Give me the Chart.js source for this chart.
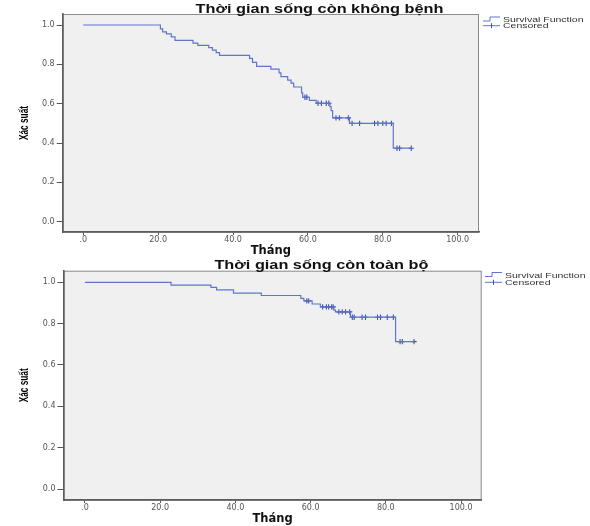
<!DOCTYPE html>
<html>
<head>
<meta charset="utf-8">
<script src="https://cdn.jsdelivr.net/npm/chart.js@4.4.1/dist/chart.umd.min.js"></script>
<style>
  body { margin: 0; background: #fff; }
  #wrap { position: relative; width: 590px; height: 526px; }
  canvas { position: absolute; left: 0; }
  #c1 { top: 0; }
  #c2 { top: 258px; }
</style>
</head>
<body>
<div id="wrap">
  <canvas id="c1" width="590" height="258"></canvas>
  <canvas id="c2" width="590" height="268"></canvas>
</div>
<script>
// ticks used on both plots
const xTicks = [0, 20, 40, 60, 80, 100];
const yTicks = [0, 0.2, 0.4, 0.6, 0.8, 1.0];

// top: disease free survival
const dfsTime = [0, 20.6, 21.2, 22.2, 23.5, 24.5, 29.3, 30.6, 33.5, 34.5, 35.5, 36.4,
  44.4, 45.2, 46.3, 50.1, 52.3, 52.8, 54.6, 55.5, 56.2, 58.3, 58.6, 60.4,
  62.2, 65.9, 66.2, 66.6, 71.1, 82.8, 87.6];
const dfsSurv = [1, 0.98, 0.965, 0.955, 0.94, 0.922, 0.908, 0.897, 0.885, 0.872, 0.86, 0.846,
  0.83, 0.81, 0.79, 0.776, 0.757, 0.738, 0.72, 0.705, 0.685, 0.655, 0.633, 0.617,
  0.602, 0.585, 0.565, 0.528, 0.5, 0.374, 0.374];
const dfsCensTime = [59.2, 59.7, 62.7, 63.6, 64.9, 65.6, 67.5, 68.4, 70.8, 71.8, 73.8,
  77.8, 78.7, 80.0, 80.9, 82.3, 83.8, 84.5, 87.6];
const dfsCensSurv = [0.633, 0.633, 0.602, 0.602, 0.602, 0.602, 0.528, 0.528, 0.528, 0.5, 0.5,
  0.5, 0.5, 0.5, 0.5, 0.5, 0.374, 0.374, 0.374];

// bottom: overall survival
const osTime = [0, 22.9, 33.5, 35.0, 39.5, 46.9, 57.4, 58.2, 60.4, 62.6, 66.2, 66.6, 70.6, 82.6, 87.5];
const osSurv = [1, 0.986, 0.975, 0.963, 0.948, 0.936, 0.922, 0.91, 0.895, 0.881, 0.865, 0.857, 0.831, 0.713, 0.713];
const osCensTime = [59.0, 59.5, 63.2, 64.2, 64.8, 65.6, 66.0, 67.5, 68.4, 69.3, 70.4,
  71.1, 71.6, 73.7, 74.6, 77.8, 78.6, 80.4, 82.0, 83.8, 84.4, 87.5];
const osCensSurv = [0.91, 0.91, 0.881, 0.881, 0.881, 0.881, 0.881, 0.857, 0.857, 0.857, 0.857,
  0.831, 0.831, 0.831, 0.831, 0.831, 0.831, 0.831, 0.831, 0.713, 0.713, 0.713];

const lineBlue = '#5f76c8';
const markBlue = '#3a53b0';

// draws text squeezed/stretched along its own direction (the source picture is stretched)
function wideText(ctx, text, x, y, sx, font, color, rot) {
  ctx.save();
  ctx.font = font;
  ctx.fillStyle = color;
  ctx.textBaseline = 'alphabetic';
  ctx.translate(x, y);
  if (rot) ctx.rotate(rot);
  ctx.scale(sx, 1);
  ctx.fillText(text, 0, 0);
  ctx.restore();
}

function textW(ctx, text, font) {
  ctx.save();
  ctx.font = font;
  const w = ctx.measureText(text).width;
  ctx.restore();
  return w;
}

// grey plot box, centred title, y label and the SPSS style legend
const kmDecor = {
  id: 'kmDecor',
  beforeDraw(chart, args, o) {
    const {ctx, chartArea: a} = chart;
    ctx.save();
    ctx.fillStyle = '#f0f0f0';
    ctx.fillRect(a.left, a.top, a.right - a.left, a.bottom - a.top);
    ctx.strokeStyle = '#8c8c8c';
    ctx.lineWidth = 1;
    ctx.strokeRect(a.left + 0.5, a.top + 0.5, a.right - a.left - 1, a.bottom - a.top);
    ctx.restore();
  },
  afterDraw(chart, args, o) {
    const {ctx, chartArea: a} = chart;
    // title
    const tf = 'bold 12px "Liberation Sans"';
    const w = textW(ctx, o.title, tf);
    wideText(ctx, o.title, o.titleX - o.titleW / 2, o.titleY, o.titleW / w, tf, '#111');

    // y axis label, narrow and rotated
    const yf = 'bold 13px "Liberation Sans"';
    const yl = 'Xác suất';
    const yw = textW(ctx, yl, yf);
    const cy = (a.top + a.bottom) / 2;
    wideText(ctx, yl, 27.5, cy + 17, 34 / yw, yf, '#000', -Math.PI / 2);

    // legend
    const lx = o.legX, y1 = o.legY1, y2 = o.legY2;
    ctx.save();
    ctx.strokeStyle = lineBlue;
    ctx.lineWidth = 1;
    ctx.beginPath();
    ctx.moveTo(lx, y1 + 1.5);
    ctx.lineTo(lx + 7, y1 + 1.5);
    ctx.lineTo(lx + 7, y1 - 2.5);
    ctx.lineTo(lx + 17, y1 - 2.5);
    ctx.moveTo(lx, y2);
    ctx.lineTo(lx + 17, y2);
    ctx.stroke();
    ctx.strokeStyle = markBlue;
    ctx.beginPath();
    ctx.moveTo(lx + 8.5, y2 - 2.5);
    ctx.lineTo(lx + 8.5, y2 + 2.5);
    ctx.stroke();
    ctx.restore();
    wideText(ctx, 'Survival Function', lx + 20, y1 + 2.5, 1.4, '7.5px "Liberation Sans"', '#333');
    wideText(ctx, 'Censored', lx + 20, y2 + 2.5, 1.4, '7.5px "Liberation Sans"', '#333');
  }
};

function kmChart(id, time, surv, censTime, censSurv, p) {
  const curve = time.map((t, i) => ({x: t, y: surv[i]}));
  const cens = censTime.map((t, i) => ({x: t, y: censSurv[i]}));
  return new Chart(document.getElementById(id), {
    type: 'scatter',
    data: {
      datasets: [
        { label: 'Survival Function', data: curve, showLine: true, stepped: 'before',
          borderColor: lineBlue, borderWidth: 1.2, pointRadius: 0, fill: false },
        { label: 'Censored', data: cens, showLine: false, pointStyle: 'cross',
          pointRadius: 2.7, borderColor: markBlue, backgroundColor: markBlue, borderWidth: 1.1 }
      ]
    },
    options: {
      responsive: false,
      animation: false,
      devicePixelRatio: 1,
      events: [],
      layout: { padding: { top: p.top, right: p.right, left: 0, bottom: 0 } },
      plugins: {
        legend: { display: false },
        tooltip: { enabled: false },
        kmDecor: p.decor
      },
      scales: {
        x: {
          type: 'linear', min: p.xMin, max: p.xMax,
          afterBuildTicks: s => { s.ticks = xTicks.map(v => ({value: v})); },
          afterFit: s => { s.height = p.xh; },
          ticks: {
            callback: v => v === 0 ? '.0' : v.toFixed(1),
            font: { family: '"DejaVu Sans"', size: 8 }, color: '#555', padding: 0, maxRotation: 0
          },
          grid: { drawOnChartArea: false, drawTicks: true, tickLength: 3, color: '#555' },
          border: { display: true, color: '#5c5c5c', width: 1.6 },
          title: { display: true, text: 'Tháng', color: '#111',
            font: { family: '"DejaVu Sans"', size: 11.5, weight: 'bold' }, padding: { top: 0, bottom: 0 } }
        },
        y: {
          type: 'linear', min: p.yMin, max: p.yMax,
          afterBuildTicks: s => { s.ticks = yTicks.map(v => ({value: v})); },
          afterFit: s => { s.width = p.yw; },
          ticks: {
            callback: v => v.toFixed(1),
            font: { family: '"DejaVu Sans"', size: 8 }, color: '#555', padding: 2
          },
          grid: { drawOnChartArea: false, drawTicks: true, tickLength: 6, color: '#555' },
          border: { display: true, color: '#5c5c5c', width: 1.6 },
          title: { display: false }
        }
      }
    },
    plugins: [kmDecor]
  });
}

kmChart('c1', dfsTime, dfsSurv, dfsCensTime, dfsCensSurv, {
  top: 14, right: 111, yw: 62.7, xh: 26,
  xMin: -5.5, xMax: 105.7, yMin: -0.052, yMax: 1.056,
  decor: { title: 'Thời gian sống còn không bệnh', titleX: 319.5, titleY: 13.3, titleW: 248,
    legX: 483, legY1: 19.5, legY2: 25.7 }
});

kmChart('c2', osTime, osSurv, osCensTime, osCensSurv, {
  top: 12.7, right: 108.3, yw: 63.5, xh: 26,
  xMin: -5.7, xMax: 105.5, yMin: -0.053, yMax: 1.056,
  decor: { title: 'Thời gian sống còn toàn bộ', titleX: 321.4, titleY: 10.5, titleW: 214,
    legX: 485, legY1: 17, legY2: 24.3 }
});
</script>
</body>
</html>
